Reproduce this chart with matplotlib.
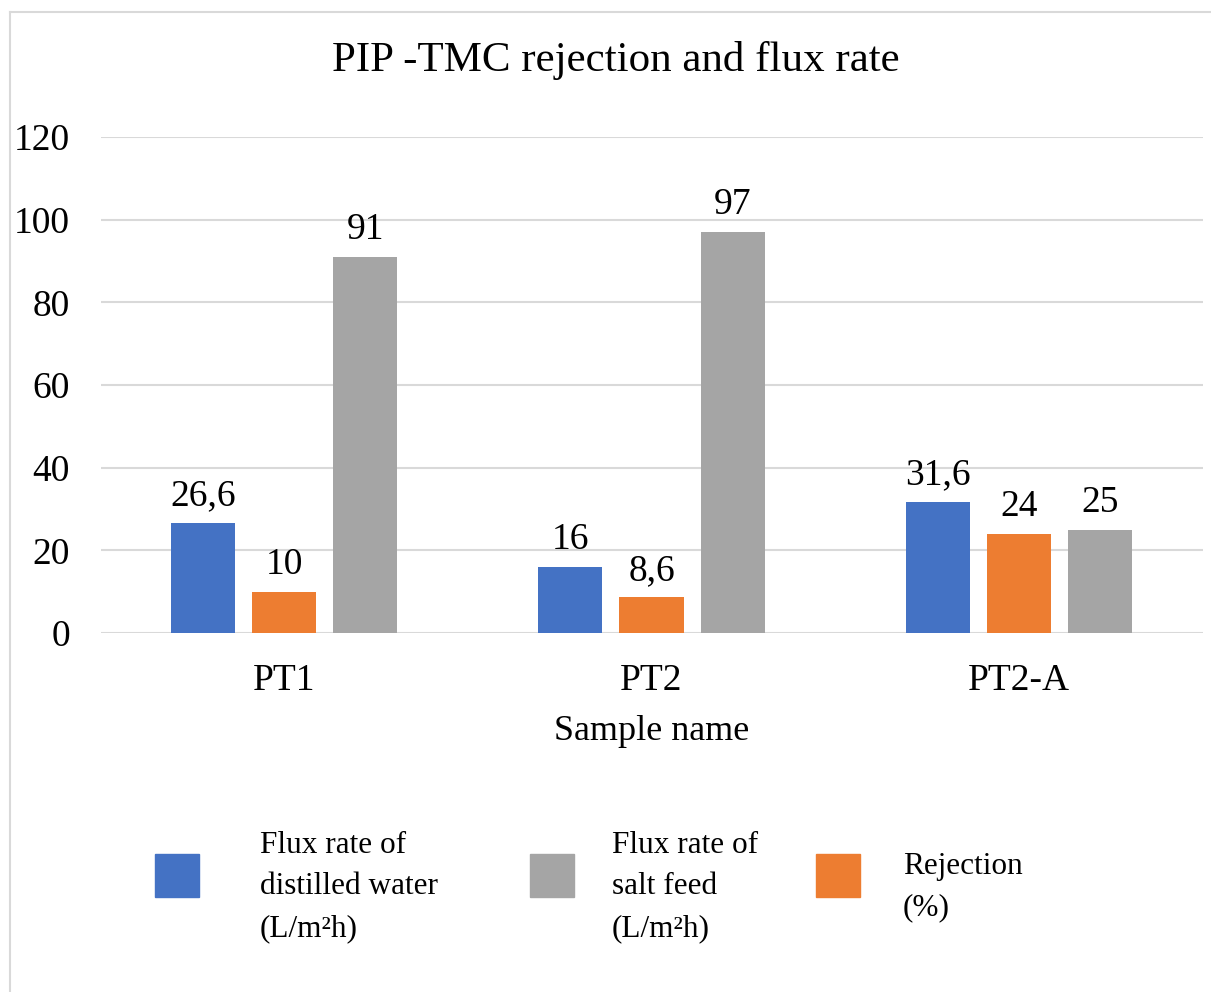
import matplotlib
matplotlib.use('Agg')
import matplotlib.pyplot as plt
from matplotlib.patches import Rectangle
from matplotlib.lines import Line2D
import numpy as np

plt.rcParams['font.family'] = ['Liberation Serif', 'DejaVu Serif']

samples = ['PT1', 'PT2', 'PT2-A']
flux_distilled = [26.6, 16, 31.6]
rejection = [10, 8.6, 24]
flux_salt = [91, 97, 25]
yticks = [0, 20, 40, 60, 80, 100, 120]

series = [
    (flux_distilled, '#4472C4', 'Flux rate of\ndistilled water\n(L/m²h)'),
    (rejection, '#ED7D31', 'Rejection\n(%)'),
    (flux_salt, '#A5A5A5', 'Flux rate of\nsalt feed\n(L/m²h)'),
]

fig = plt.figure(figsize=(12.11, 9.92), dpi=100)
ax = fig.add_axes([100.5 / 1211, 1 - 633 / 992, 1102 / 1211, 496 / 992])

x = np.arange(len(samples))
width = 0.1744
step = 0.2207
for i, (vals, col, lab) in enumerate(series):
    bars = ax.bar(x + (i - 1) * step, vals, width, color=col, zorder=3)
    ax.bar_label(bars, labels=[f'{v:g}'.replace('.', ',') for v in vals],
                 padding=7, fontsize=27)

ax.set_xlim(-0.5, len(samples) - 0.5)
ax.set_ylim(0, 120)
ax.set_yticks(yticks)
ax.set_xticks(x)
ax.set_xticklabels(samples)
ax.tick_params(axis='both', length=0, labelsize=27)
ax.tick_params(axis='y', pad=22)
ax.tick_params(axis='x', pad=22)
ax.grid(axis='y', color='#d9d9d9', lw=1.5, zorder=0)
for s in ax.spines.values():
    s.set_visible(False)
ax.set_xlabel('Sample name', fontsize=26, labelpad=12)
fig.text(616 / 1211, 1 - 60 / 992, 'PIP -TMC rejection and flux rate', fontsize=31,
         ha='center', va='center')

# chart frame
fig.add_artist(Line2D([10 / 1211, 10 / 1211], [0, 1 - 12 / 992], color='#d9d9d9', lw=1.5))
fig.add_artist(Line2D([10 / 1211, 1], [1 - 12 / 992, 1 - 12 / 992], color='#d9d9d9', lw=1.5))

# legend laid out like the original (blue, gray, orange)
legend_order = [0, 2, 1]
sq_x = [155, 530, 816]
txt_x = [260, 612, 903]
for k, idx in enumerate(legend_order):
    vals, col, lab = series[idx]
    fig.add_artist(Rectangle((sq_x[k] / 1211, 1 - 897 / 992), 44 / 1211, 43 / 992,
                             transform=fig.transFigure, color=col))
    fig.text(txt_x[k] / 1211, 1 - 887 / 992, lab, fontsize=22.5, va='center', ha='left',
             linespacing=1.58)

fig.savefig('out.png', dpi=100)
